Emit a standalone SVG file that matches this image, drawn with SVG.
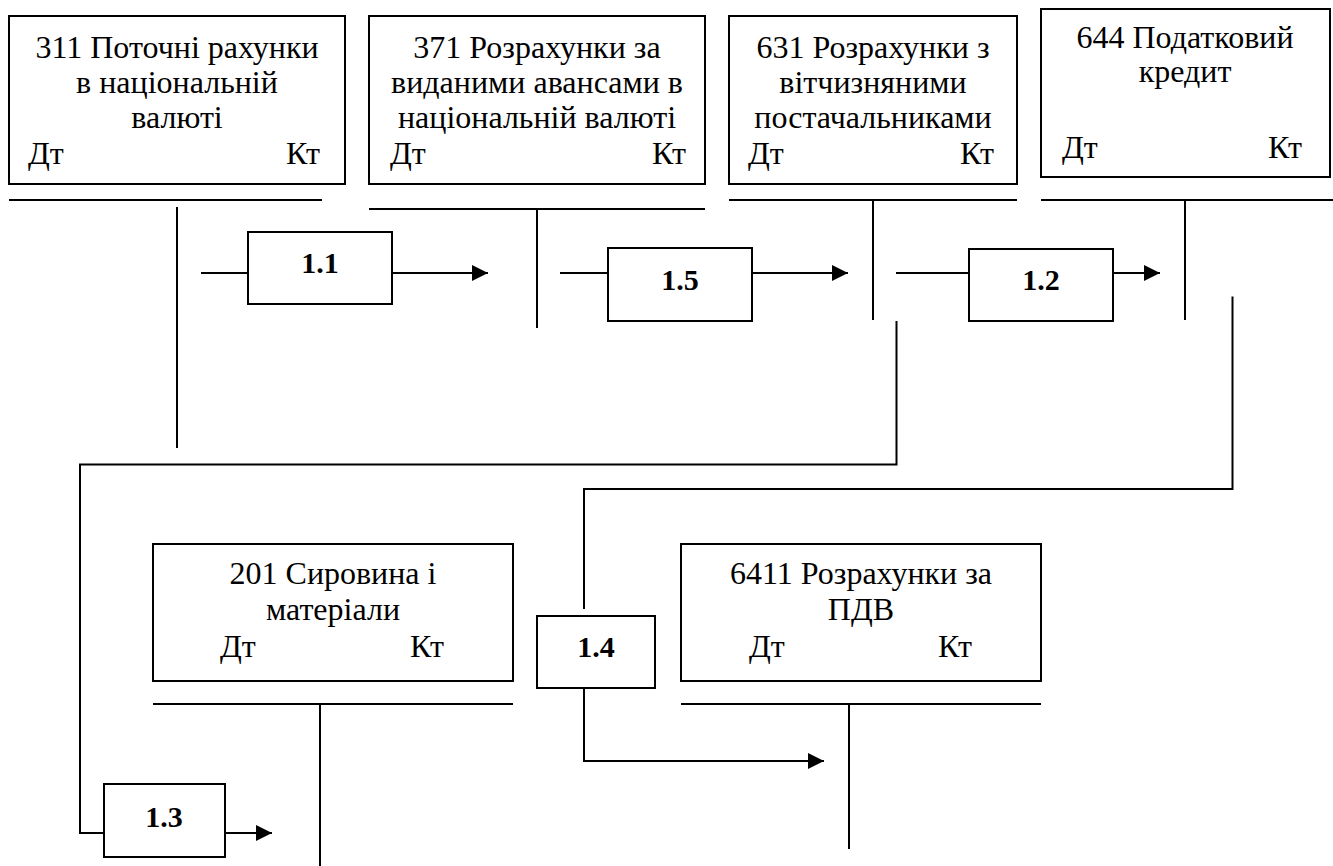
<svg xmlns="http://www.w3.org/2000/svg" width="1333" height="866" viewBox="0 0 1333 866">
<style>
.box{fill:#fff;stroke:#000;stroke-width:2}
.ln{fill:none;stroke:#000;stroke-width:2}
.t{font-family:"Liberation Serif","Times New Roman",serif;font-size:32px;fill:#000}
.c{text-anchor:middle}
.e{text-anchor:end}
.b{font-family:"Liberation Serif","Times New Roman",serif;font-size:30px;font-weight:bold;text-anchor:middle;fill:#000}
</style>
<defs>
<marker id="ah" markerUnits="userSpaceOnUse" markerWidth="16" markerHeight="16" viewBox="0 0 16 16" refX="16" refY="8" orient="auto">
<path d="M0,0 L16,8 L0,16 Z" fill="#000"/>
</marker>
</defs>
<rect width="1333" height="866" fill="#fff"/>

<g id="acc311">
<rect class="box" x="9" y="16" width="336" height="168"/>
<text class="t c" x="177" y="58">311 Поточні рахунки</text>
<text class="t c" x="177" y="93">в національній</text>
<text class="t c" x="177" y="128">валюті</text>
<text class="t" x="28" y="164">Дт</text>
<text class="t e" x="320" y="164">Кт</text>
<path class="ln" d="M9,200 H322 M177,207 V448"/>
</g>

<g id="acc371">
<rect class="box" x="369" y="16" width="336" height="168"/>
<text class="t c" x="537" y="58">371 Розрахунки за</text>
<text class="t c" x="537" y="93">виданими авансами в</text>
<text class="t c" x="537" y="128">національній валюті</text>
<text class="t" x="390" y="164">Дт</text>
<text class="t e" x="686" y="164">Кт</text>
<path class="ln" d="M369,209 H705 M537,209 V328"/>
</g>

<g id="acc631">
<rect class="box" x="729" y="16" width="288" height="168"/>
<text class="t c" x="873" y="58">631 Розрахунки з</text>
<text class="t c" x="873" y="93">вітчизняними</text>
<text class="t c" x="873" y="128">постачальниками</text>
<text class="t" x="748" y="164">Дт</text>
<text class="t e" x="994" y="164">Кт</text>
<path class="ln" d="M729,200 H1017 M873,200 V320"/>
</g>

<g id="acc644">
<rect class="box" x="1041" y="9" width="289" height="168"/>
<text class="t c" x="1185" y="48">644 Податковий</text>
<text class="t c" x="1185" y="82">кредит</text>
<text class="t" x="1062" y="158">Дт</text>
<text class="t e" x="1302" y="158">Кт</text>
<path class="ln" d="M1041,200 H1333 M1185,200 V320"/>
</g>

<g id="acc201">
<rect class="box" x="153" y="544" width="360" height="137"/>
<text class="t c" x="333" y="584">201 Сировина і</text>
<text class="t c" x="333" y="620">матеріали</text>
<text class="t" x="220" y="657">Дт</text>
<text class="t e" x="444" y="657">Кт</text>
<path class="ln" d="M153,704 H513 M320,704 V866"/>
</g>

<g id="acc6411">
<rect class="box" x="681" y="544" width="360" height="137"/>
<text class="t c" x="861" y="584">6411 Розрахунки за</text>
<text class="t c" x="861" y="620">ПДВ</text>
<text class="t" x="749" y="657">Дт</text>
<text class="t e" x="972" y="657">Кт</text>
<path class="ln" d="M681,704 H1041 M849,704 V849"/>
</g>

<g id="op1.1">
<rect class="box" x="248" y="232" width="144" height="72"/>
<text class="b" x="320" y="273">1.1</text>
</g>
<g id="op1.5">
<rect class="box" x="608" y="248" width="144" height="73"/>
<text class="b" x="680" y="290">1.5</text>
</g>
<g id="op1.2">
<rect class="box" x="969" y="249" width="144" height="72"/>
<text class="b" x="1041" y="290">1.2</text>
</g>
<g id="op1.3">
<rect class="box" x="104" y="784" width="121" height="73"/>
<text class="b" x="164" y="827">1.3</text>
</g>
<g id="op1.4">
<rect class="box" x="537" y="616" width="118" height="72"/>
<text class="b" x="596" y="657">1.4</text>
</g>

<g id="connectors">
<path class="ln" d="M201,273 H248"/>
<path class="ln" d="M392,273 H488" marker-end="url(#ah)"/>
<path class="ln" d="M560,273 H608"/>
<path class="ln" d="M752,273 H848" marker-end="url(#ah)"/>
<path class="ln" d="M896,273 H969"/>
<path class="ln" d="M1113,273 H1160" marker-end="url(#ah)"/>
<path class="ln" d="M896.5,321 V464.5 H80 V833 H104"/>
<path class="ln" d="M225,833 H272" marker-end="url(#ah)"/>
<path class="ln" d="M1232.5,296.5 V489 H584 V609"/>
<path class="ln" d="M584,688 V761 H824" marker-end="url(#ah)"/>
</g>
</svg>
